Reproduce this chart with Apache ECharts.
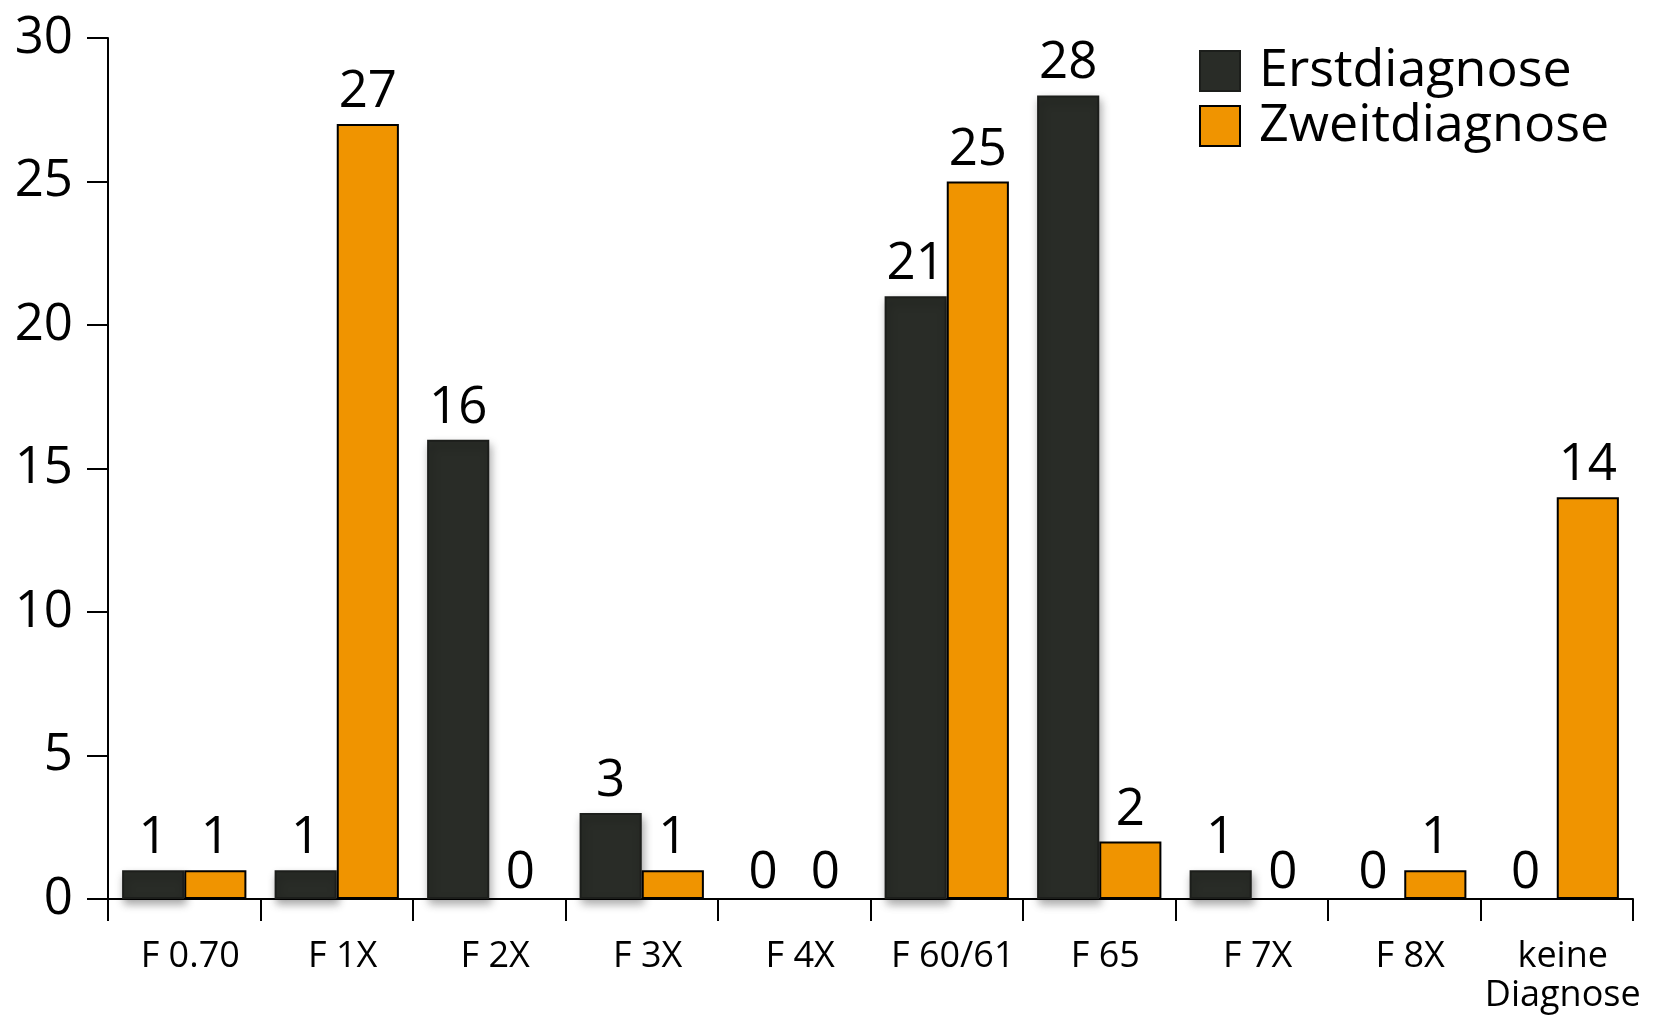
<!DOCTYPE html>
<html>
<head>
<meta charset="utf-8">
<script src="https://cdn.jsdelivr.net/npm/echarts@6/dist/echarts.min.js"></script>
<style>
  html, body { margin: 0; padding: 0; background: #ffffff; }
  #chart { width: 1676px; height: 1016px; }
</style>
</head>
<body>
<div id="chart"></div>
<script>
// Diagnosis groups (ICD-10 F chapter) and patient counts
const categories = ['F 0.70', 'F 1X', 'F 2X', 'F 3X', 'F 4X', 'F 60/61', 'F 65', 'F 7X', 'F 8X', 'keine\nDiagnose'];
const erstdiagnose = [1, 1, 16, 3, 0, 21, 28, 1, 0, 0];
const zweitdiagnose = [1, 27, 0, 1, 0, 25, 2, 0, 1, 14];
const yTicks = [0, 5, 10, 15, 20, 25, 30];

const FONT = '"Open Sans", "Noto Sans", sans-serif';
const DARK = '#292c27';
const ORANGE = '#f09400';

const chart = echarts.init(document.getElementById('chart'), null, { renderer: 'canvas' });

const valueLabel = {
  show: true,
  position: 'top',
  distance: 6,
  color: '#000000',
  fontFamily: FONT,
  fontSize: 51
};

// Zero-height bars: label sits a little closer to the axis and no shadow is cast
function toItems(values) {
  return values.map(v => v === 0
    ? { value: v, label: { distance: 0 }, itemStyle: { shadowColor: 'rgba(0,0,0,0)', borderWidth: 0 } }
    : v);
}

chart.setOption({
  backgroundColor: '#ffffff',
  animation: false,
  grid: { left: 108, right: 43, top: 38, bottom: 117, containLabel: false },
  legend: {
    orient: 'vertical',
    left: 1194,
    top: 40,
    itemWidth: 40,
    itemHeight: 40,
    itemGap: 3,
    icon: 'rect',
    textStyle: { fontFamily: FONT, fontSize: 52, lineHeight: 40, color: '#000000', padding: [0, 0, 0, 14] },
    data: ['Erstdiagnose', 'Zweitdiagnose']
  },
  xAxis: {
    type: 'category',
    data: categories,
    boundaryGap: true,
    axisLine: { show: true, lineStyle: { color: '#000000', width: 2 } },
    axisTick: { show: true, length: 22, lineStyle: { color: '#000000', width: 2 } },
    axisLabel: {
      margin: 38,
      color: '#000000',
      fontFamily: FONT,
      fontSize: 36,
      lineHeight: 39,
      padding: [0, 0, 0, 12],
      interval: 0
    },
    splitLine: { show: false }
  },
  yAxis: {
    type: 'value',
    min: yTicks[0],
    max: yTicks[yTicks.length - 1],
    interval: 5,
    axisLine: { show: true, lineStyle: { color: '#000000', width: 2 } },
    axisTick: { show: true, length: 21, lineStyle: { color: '#000000', width: 2 } },
    axisLabel: {
      margin: 35,
      color: '#000000',
      fontFamily: FONT,
      fontSize: 51
    },
    splitLine: { show: false }
  },
  series: [
    {
      name: 'Erstdiagnose',
      type: 'bar',
      data: toItems(erstdiagnose),
      barGap: '0%',
      barCategoryGap: '18.5%',
      itemStyle: {
        color: DARK,
        borderColor: '#1c1e1b',
        borderWidth: 2,
        shadowColor: 'rgba(0,0,0,0.35)',
        shadowBlur: 9,
        shadowOffsetX: 2,
        shadowOffsetY: 5
      },
      label: valueLabel
    },
    {
      name: 'Zweitdiagnose',
      type: 'bar',
      data: toItems(zweitdiagnose),
      barGap: '0%',
      barCategoryGap: '18.5%',
      itemStyle: {
        color: ORANGE,
        borderColor: '#000000',
        borderWidth: 2
      },
      label: valueLabel
    }
  ]
});
</script>
</body>
</html>
